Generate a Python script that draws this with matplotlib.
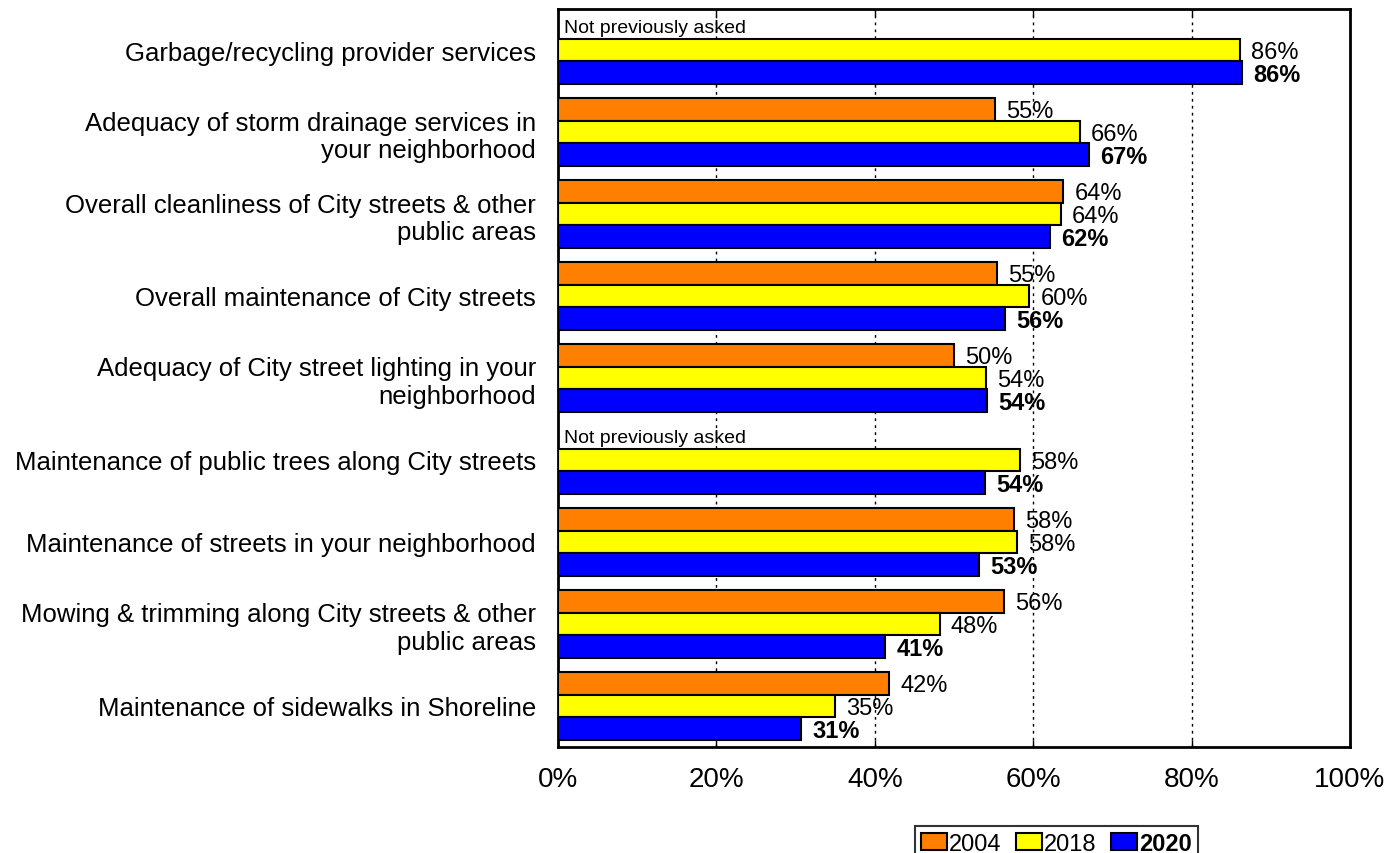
import matplotlib
matplotlib.use("Agg")
import matplotlib.pyplot as plt
import numpy as np

plt.rcParams['font.family'] = ['Liberation Sans', 'DejaVu Sans']

categories = [
    "Garbage/recycling provider services",
    "Adequacy of storm drainage services in\nyour neighborhood",
    "Overall cleanliness of City streets & other\npublic areas",
    "Overall maintenance of City streets",
    "Adequacy of City street lighting in your\nneighborhood",
    "Maintenance of public trees along City streets",
    "Maintenance of streets in your neighborhood",
    "Mowing & trimming along City streets & other\npublic areas",
    "Maintenance of sidewalks in Shoreline",
]
# None = item not asked in that survey year
values_2004 = [None, 55.2, 63.8, 55.4, 50.0, None, 57.6, 56.3, 41.8]
values_2018 = [86.1, 65.9, 63.5, 59.5, 54.0, 58.3, 58.0, 48.2, 35.0]
values_2020 = [86.4, 67.0, 62.1, 56.4, 54.2, 53.9, 53.2, 41.3, 30.7]
years = ["2004", "2018", "2020"]
colors = ["#FF8000", "#FFFF00", "#0000FF"]
xticks = [0, 20, 40, 60, 80, 100]

fig = plt.figure(figsize=(13.87, 8.54), dpi=100)
ax = fig.add_axes([558 / 1387, 1 - 748 / 854, (1350 - 558) / 1387, (748 - 10) / 854])

bar_h = 0.28
offsets = [-bar_h, 0.0, bar_h]
series = [values_2004, values_2018, values_2020]
y = np.arange(len(categories))

for s, (vals, col, off) in enumerate(zip(series, colors, offsets)):
    for i, v in enumerate(vals):
        yy = i + off
        if v is None:
            ax.text(0.8, yy, "Not previously asked", va="center", ha="left",
                    fontsize=14, zorder=4)
            continue
        ax.barh(yy, v, height=bar_h, color=col, edgecolor="black",
                linewidth=1.5, zorder=3)
        ax.text(v + 1.4, yy + 0.02, f"{round(v)}%", va="center", ha="left",
                fontsize=17, fontweight="bold" if s == 2 else "normal", zorder=4)

ax.set_xlim(0, 100)
ax.set_ylim(len(categories) - 0.5, -0.5)
ax.set_xticks(xticks)
ax.set_xticklabels([f"{t}%" for t in xticks], fontsize=20)
ax.set_yticks(y)
ax.set_yticklabels(categories, fontsize=18.5, ha="right", multialignment="right")
ax.tick_params(axis="y", length=0, pad=16)
ax.tick_params(axis="x", direction="in", length=5, width=1, pad=14, top=True)

for gx in xticks[1:-1]:
    ax.axvline(gx, color="black", linestyle=(0, (2, 3)), linewidth=1, zorder=1)

for sp in ax.spines.values():
    sp.set_linewidth(2)
    sp.set_color("black")

handles = [plt.Rectangle((0, 0), 1, 1, facecolor=c, edgecolor="black", linewidth=1.5)
           for c in colors]
leg = fig.legend(handles, years, loc="upper left",
                 bbox_to_anchor=(903 / 1387, 1 - 815 / 854),
                 ncol=3, frameon=True, fancybox=False, fontsize=17,
                 handlelength=1.1, handleheight=0.7, handletextpad=0.1,
                 columnspacing=0.6, borderpad=0.25)
leg.get_frame().set_edgecolor("black")
leg.get_frame().set_linewidth(1.5)
leg.get_texts()[2].set_fontweight("bold")

fig.savefig("out.png", dpi=100)
